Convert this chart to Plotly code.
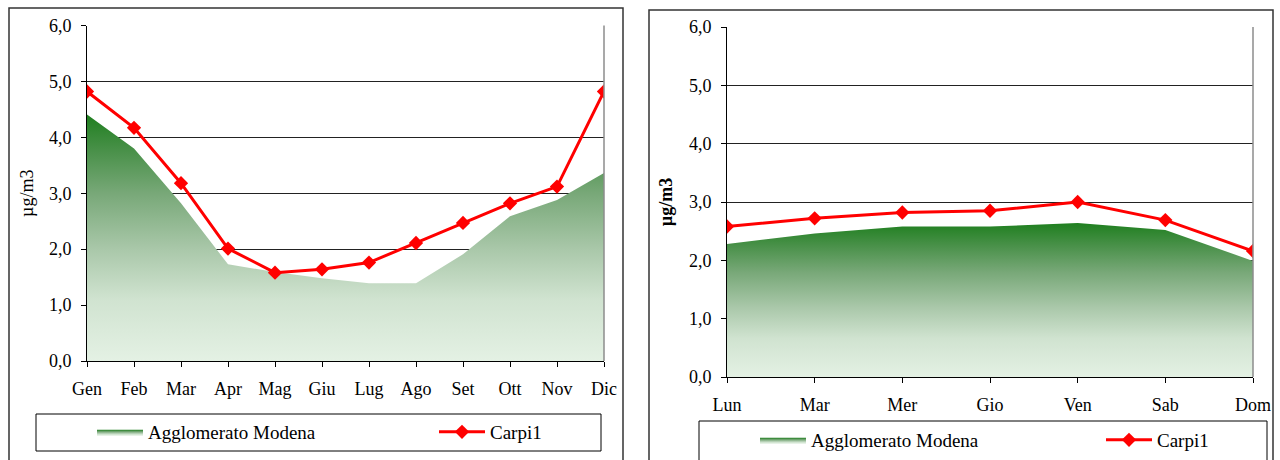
import plotly.graph_objects as go

# monthly averages (left chart)
months = ["Gen", "Feb", "Mar", "Apr", "Mag", "Giu", "Lug", "Ago", "Set", "Ott", "Nov", "Dic"]
modena_month = [4.41, 3.80, 2.82, 1.73, 1.59, 1.48, 1.39, 1.39, 1.91, 2.59, 2.88, 3.36]
carpi_month = [4.82, 4.17, 3.18, 2.01, 1.58, 1.64, 1.76, 2.11, 2.47, 2.82, 3.12, 4.82]

# weekday averages (right chart)
days = ["Lun", "Mar", "Mer", "Gio", "Ven", "Sab", "Dom"]
modena_day = [2.28, 2.46, 2.58, 2.58, 2.64, 2.52, 1.99]
carpi_day = [2.58, 2.72, 2.82, 2.85, 3.00, 2.69, 2.16]

y_ticks = [0, 1, 2, 3, 4, 5, 6]

W, H = 1280, 460
font_family = "Liberation Serif, Times New Roman, serif"
red = "#ff0000"
green_scale = [
    [0.0, "#e4f1e4"],
    [0.25, "#d0e3d0"],
    [0.45, "#aac8aa"],
    [0.68, "#78a878"],
    [0.85, "#4a914a"],
    [1.0, "#1f7f1f"],
]


def px_x(v):
    return v / W


def px_y(v):
    return 1 - v / H


fig = go.Figure()

# one single-entry legend per item so each can sit where Excel put it
for cats, modena, carpi, xa, ya, leg_a, leg_c in [
    (months, modena_month, carpi_month, "x", "y", "legend", "legend2"),
    (days, modena_day, carpi_day, "x2", "y2", "legend3", "legend4"),
]:
    fig.add_trace(
        go.Scatter(
            x=cats,
            y=modena,
            mode="lines",
            name="Agglomerato Modena",
            line=dict(width=0, color="#1f7f1f"),
            fill="tozeroy",
            fillgradient=dict(type="vertical", colorscale=green_scale),
            xaxis=xa,
            yaxis=ya,
            legend=leg_a,
        )
    )
    fig.add_trace(
        go.Scatter(
            x=cats,
            y=carpi,
            mode="lines+markers",
            name="Carpi1",
            line=dict(color=red, width=3),
            marker=dict(symbol="diamond", size=11, color=red),
            xaxis=xa,
            yaxis=ya,
            legend=leg_c,
        )
    )

tick_font = dict(family=font_family, size=18, color="#000000")

x_common = dict(
    type="category",
    automargin=False,
    showgrid=False,
    showline=True,
    linecolor="#000000",
    linewidth=1,
    ticks="outside",
    ticklen=5,
    tickcolor="#000000",
    tickfont=tick_font,
    ticklabelstandoff=6,
    fixedrange=True,
)
y_common = dict(
    range=[0, 6],
    automargin=False,
    tickvals=y_ticks,
    tickformat=".1f",
    showgrid=True,
    gridcolor="#222222",
    gridwidth=1,
    zeroline=False,
    showline=True,
    linecolor="#000000",
    linewidth=1,
    ticks="outside",
    ticklen=5,
    tickcolor="#000000",
    tickfont=tick_font,
    ticklabelstandoff=6,
    fixedrange=True,
)

legend_common = dict(
    orientation="h",
    bgcolor="rgba(0,0,0,0)",
    borderwidth=0,
    font=dict(family=font_family, size=19, color="#000000"),
    itemwidth=46,
    xanchor="left",
    yanchor="middle",
)

fig.update_layout(
    width=W,
    height=H,
    autosize=False,
    margin=dict(l=0, r=0, t=0, b=0),
    paper_bgcolor="#ffffff",
    plot_bgcolor="#ffffff",
    separators=",.",
    font=dict(family=font_family, color="#000000"),
    xaxis=dict(x_common, domain=[px_x(87), px_x(604)], range=[0, 11], anchor="y"),
    yaxis=dict(
        y_common,
        domain=[px_y(361), px_y(25.5)],
        anchor="x",
        title=dict(text="µg/m3", font=dict(family=font_family, size=18), standoff=10),
    ),
    xaxis2=dict(x_common, domain=[px_x(727), px_x(1253)], range=[0, 6], anchor="y2"),
    yaxis2=dict(
        y_common,
        domain=[px_y(377), px_y(27)],
        anchor="x2",
        title=dict(text="<b>µg/m3</b>", font=dict(family=font_family, size=18), standoff=11),
    ),
    legend=dict(legend_common, x=px_x(92), y=px_y(432)),
    legend2=dict(legend_common, x=px_x(434), y=px_y(432)),
    legend3=dict(legend_common, x=px_x(755), y=px_y(440)),
    legend4=dict(legend_common, x=px_x(1101), y=px_y(440)),
    showlegend=True,
)

# chart frames, legend boxes and the grey right border of each plot area
frame = dict(type="rect", xref="paper", yref="paper", line=dict(color="#333333", width=1.5),
             fillcolor="rgba(0,0,0,0)", layer="below")
fig.add_shape(frame, x0=px_x(9), x1=px_x(623), y0=px_y(475), y1=px_y(8))
fig.add_shape(frame, x0=px_x(649), x1=px_x(1273), y0=px_y(475), y1=px_y(10))
box = dict(type="rect", xref="paper", yref="paper", line=dict(color="#000000", width=1),
           fillcolor="rgba(0,0,0,0)", layer="above")
fig.add_shape(box, x0=px_x(36), x1=px_x(601), y0=px_y(451), y1=px_y(414))
fig.add_shape(box, x0=px_x(699), x1=px_x(1267), y0=px_y(475), y1=px_y(421))
border = dict(type="line", xref="paper", yref="paper", line=dict(color="#8c8c8c", width=1.5),
              layer="above")
fig.add_shape(border, x0=px_x(604), x1=px_x(604), y0=px_y(361), y1=px_y(25.5))
fig.add_shape(border, x0=px_x(1253), x1=px_x(1253), y0=px_y(377), y1=px_y(27))

# the page body has an 8px margin by default; drop it so the figure sits at 0,0
fig.write_html(
    "out.html",
    config=dict(displayModeBar=False),
    post_script="document.body.style.margin='0';",
)
